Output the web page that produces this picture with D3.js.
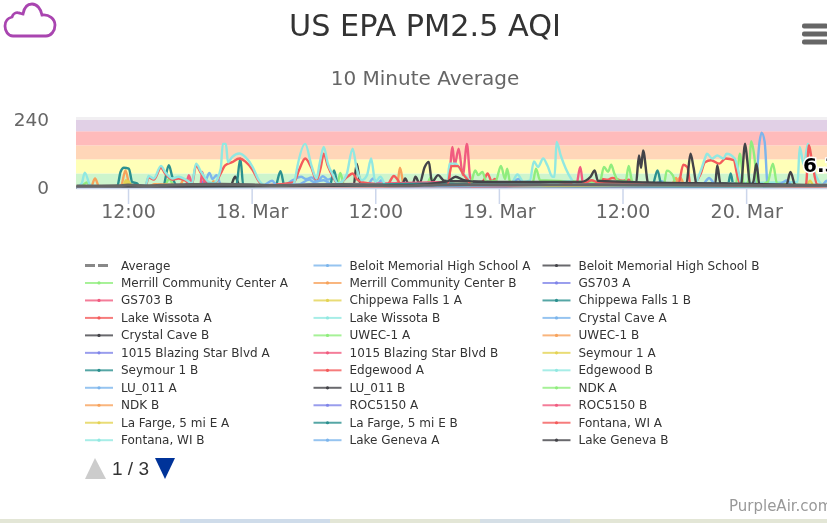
<!DOCTYPE html>
<html>
<head>
<meta charset="utf-8">
<script src="https://cdn.jsdelivr.net/npm/d3@7"></script>
<style>
  html, body { margin: 0; padding: 0; background: #fff; overflow: hidden; }
  svg { display: block; filter: blur(0.45px); font-family: "DejaVu Sans", sans-serif; }
</style>
</head>
<body>
<svg id="chart" width="827" height="523"></svg>
<script>
// Legend order, row by row (colours cycle through the palette in this order)
const seriesNames = [
  "Average", "Beloit Memorial High School A", "Beloit Memorial High School B",
  "Merrill Community Center A", "Merrill Community Center B", "GS703 A",
  "GS703 B", "Chippewa Falls 1 A", "Chippewa Falls 1 B",
  "Lake Wissota A", "Lake Wissota B", "Crystal Cave A",
  "Crystal Cave B", "UWEC-1 A", "UWEC-1 B",
  "1015 Blazing Star Blvd A", "1015 Blazing Star Blvd B", "Seymour 1 A",
  "Seymour 1 B", "Edgewood A", "Edgewood B",
  "LU_011 A", "LU_011 B", "NDK A",
  "NDK B", "ROC5150 A", "ROC5150 B",
  "La Farge, 5 mi E A", "La Farge, 5 mi E B", "Fontana, WI A",
  "Fontana, WI B", "Lake Geneva A", "Lake Geneva B"
];
const palette = ["#7cb5ec", "#434348", "#90ed7d", "#f7a35c", "#8085e9", "#f15c80", "#e4d354", "#2b908f", "#f45b5b", "#91e8e1"];

// AQI bands
const bandLimits = [0, 50, 100, 150, 200, 240];
const bandColors = ["#cdf5cd", "#ffffb8", "#ffd6b8", "#ffbbbb", "#e1d0e6"];

const yTicks = [0, 240];
// hours counted from 17 March 00:00
const xTicks = [12, 24, 36, 48, 60, 72];
const xTickLabels = ["12:00", "18. Mar", "12:00", "19. Mar", "12:00", "20. Mar"];
const lastLabel = "6.3";

// Every series is a list of [hour, AQI]
const average = [[7,5],[11,6],[12,9],[14,6],[16,9],[19,11],[21,12],[24,10],[26,7],[29,9],[33,11],[36,8],[39,6],[42,9],[45,10],[50,10],[56,10],[62,9],[66,9],[70,8],[74,7],[80,8]];
const beloitA = [[7,3],[16,5],[19,8],[19.6,30],[19.9,52],[20.2,30],[20.6,44],[21,12],[27,5],[28,26],[28.8,38],[29.3,30],[29.8,36],[30.4,22],[30.9,40],[31.4,28],[31.9,34],[32.4,10],[35.2,8],[35.8,32],[36.2,12],[36.6,26],[37,6],[48,8],[49.4,20],[49.9,30],[50.4,18],[56,8],[63,12],[63.8,22],[64.4,12],[69,10],[80,7]];
const beloitB = [[7,2],[21.9,2],[22.4,38],[22.9,2],[33.9,6],[34.2,85],[34.6,5],[44,8],[80,4]];
const merrillA = [[7,3],[7.6,8],[8,18],[8.4,3],[11.5,3],[12,22],[12.5,4],[15.5,5],[16,30],[16.5,4],[32.3,6],[32.6,52],[33,6],[38,4],[41,12],[41.4,36],[41.8,8],[80,3]];
const merrillB = [[7,2],[8.4,2],[8.8,32],[9.2,2],[11.3,3],[11.75,61],[12.2,3],[17,6],[17.4,28],[18,24],[18.4,4],[38.1,4],[38.4,70],[38.8,5],[64.7,4],[65.2,34],[65.5,6],[80,6]];
const gs703A = [[7,1],[18,2],[19,9],[19.4,24],[19.8,6],[28,3],[30,12],[30.6,4],[80,2]];
const gs703B = [[7,2],[17.6,3],[17.9,44],[18.3,3],[19,3],[19.2,55],[19.5,3],[39,4],[80,3]];
const chippewaA = [[7,2],[11.5,4],[11.8,26],[12.2,3],[24,4],[34,6],[38.6,4],[44,5],[50,6],[60,4],[77.8,3],[78.2,24],[78.6,3],[80,2]];
const chippewaB = [[7,2],[26.3,4],[26.8,58],[27.2,4],[31.6,8],[32,61],[32.4,5],[62.9,8],[63.4,61],[63.8,6],[70.2,2],[70.5,50],[70.8,2],[80,3]];
const wissotaA = [[7,2],[46,6],[46.6,30],[46.9,50],[47.3,22],[47.6,30],[48,8],[57.6,10],[58,30],[58.6,28],[59,34],[60,24],[60.6,28],[61.2,16],[80,5]];
const wissotaB = [[7,2],[7.5,14],[7.8,53],[8.3,10],[8.7,2],[45,3],[49.2,15],[49.8,46],[50.4,20],[51,24],[51.4,93],[51.8,73],[52.3,103],[52.7,79],[53.2,38],[53.4,38],[53.6,162],[54,114],[54.5,67],[55,32],[55.4,14],[61,20],[61.4,12],[77,20],[77.2,144],[77.6,80],[78,156],[78.5,70],[79,26],[79.4,12],[80,26]];
const crystalA = [[7,2],[72.9,6],[73.3,162],[73.5,195],[73.8,162],[74.1,6],[80,4]];
const crystalB = [[7,2],[38.6,8],[38.9,32],[39.3,6],[39.6,8],[39.9,38],[40.3,14],[40.8,73],[41.2,91],[41.5,20],[42.1,44],[42.7,24],[44,22],[80,5]];
const uwecA = [[7,2],[64,8],[64.3,60],[64.9,42],[65.2,8],[71,10],[71.4,120],[71.8,6],[72.2,20],[72.5,165],[72.8,110],[73.1,8],[74.1,20],[74.6,85],[75,14],[80,4]];
const uwecB = [[7,2],[20,5],[20.3,22],[20.7,4],[65,8],[65.6,36],[66,10],[80,3]];
const blazingA = [[7,1],[20,3],[21,6],[29,6],[45,4],[80,3]];
const blazingB = [[7,2],[43.1,20],[43.5,144],[43.7,80],[44.1,138],[44.5,44],[44.9,155],[45.2,38],[45.6,6],[80,2]];
const seymourA = [[7,1],[11.5,6],[12,22],[12.4,5],[30,3],[45,8],[60,7],[80,7]];
const seymourB = [[7,2],[10.95,3],[11.27,55],[11.6,70],[12.08,67],[12.4,20],[12.9,14],[13.1,3],[15.4,5],[15.96,79],[16.3,38],[16.7,8],[22.5,4],[22.9,103],[23.2,4],[80,2]];
const edgewoodA = [[7,1],[13.7,6],[14,36],[14.5,28],[15.2,70],[15.6,50],[16.3,28],[16.9,32],[17.7,22],[18.2,10],[18.6,78],[19.1,50],[19.8,16],[20.3,10],[21,50],[21.4,78],[22.1,90],[22.8,103],[23.4,92],[24.1,62],[24.7,22],[25.2,8],[28.1,18],[28.6,62],[29.2,103],[29.8,70],[30.3,26],[30.7,70],[31,120],[31.4,76],[31.9,38],[32.4,12],[33.3,38],[33.8,50],[34.2,30],[34.8,18],[37.2,8],[37.4,20],[37.8,41],[38.2,26],[38.5,5],[65.4,8],[65.9,81],[66.3,72],[66.6,8],[67.6,50],[68,90],[68.6,97],[69.4,85],[70,103],[70.8,97],[71.1,50],[71.5,8],[77.8,8],[78.1,150],[78.4,90],[78.9,10],[80,4]];
const edgewoodB = [[7,2],[13.7,8],[14,41],[14.5,32],[15.2,77],[15.6,55],[16.3,32],[16.9,38],[17.7,26],[18.2,14],[18.6,85],[19.1,55],[19.8,20],[20.3,14],[21,67],[21.2,155],[21.5,155],[21.7,90],[22.1,108],[22.8,121],[23.4,108],[24.1,73],[24.7,26],[25.2,10],[28,8],[28.2,26],[28.4,67],[29.2,155],[29.8,79],[30.3,32],[30.6,85],[31,144],[31.4,85],[31.9,44],[32.4,14],[33.2,44],[33.8,138],[34.2,67],[34.7,26],[35.2,44],[35.6,103],[36,20],[36.5,38],[37,10],[43,12],[43.2,85],[43.8,85],[44.5,50],[45,32],[45.5,8],[67,12],[67.6,60],[68,103],[68.2,120],[68.7,103],[69.2,114],[69.8,103],[70.1,120],[70.9,103],[71.2,67],[71.6,8],[80,5]];
const lu011A = [[7,2],[25,5],[26,24],[26.4,8],[28.5,10],[29.6,28],[30,20],[31,26],[32,6],[40,3],[46,8],[60,9],[68,10],[71,9],[75.2,12],[76,26],[76.4,8],[79.4,8],[79.8,24],[80,16]];
const lu011B = [[7,1],[61.3,10],[61.6,114],[61.8,70],[62,132],[62.5,14],[66.2,14],[66.6,120],[66.9,70],[67.2,10],[69,14],[69.2,79],[69.5,14],[71.5,10],[71.9,156],[72.1,100],[72.4,8],[72.7,20],[73,85],[73.3,8],[75.9,8],[76.3,55],[76.8,6],[80,6]];
const ndkA = [[7,1],[45.2,8],[45.7,61],[46,44],[46.4,55],[46.8,20],[47.7,24],[48.2,77],[48.6,30],[48.8,67],[49.1,18],[51.3,20],[51.6,67],[52,26],[57.8,20],[58.2,73],[58.6,56],[58.9,81],[59.2,50],[59.6,24],[60.3,22],[60.6,77],[60.9,26],[61.3,8],[80,3]];
const ndkB = [[7,3],[14,4],[14.6,12],[16,10],[17,8],[44,9],[50,7],[60,8],[74,6],[80,9]];
const roc5150A = [[7,2],[18,4],[20,7],[40,5],[50,5],[80,5]];
const roc5150B = [[7,2],[55.5,6],[55.9,73],[56.2,6],[60,5],[62.9,6],[63.2,10],[80,2]];
const laFargeA = [[7,3],[40,5],[45,6],[46,9],[50,5],[70,7],[80,4]];
const laFargeB = [[7,2],[25,3],[31,6],[43,14],[44,12],[80,4]];
const fontanaA = [[7,1],[40,3],[43,8],[43.4,76],[44,76],[44.6,44],[45,26],[45.4,4],[56.4,18],[57,26],[57.6,18],[80,3]];
const fontanaB = [[7,1],[42,6],[46,9],[52,8],[55,22],[55.5,10],[65,8],[70.5,9],[80,5]];
const genevaA = [[7,2],[20,4],[28,9],[33,12],[37,6],[40,4],[50,9],[62,8],[67.8,12],[68.4,34],[69,12],[80,6]];
const genevaB = [[7,1],[39,8],[43,22],[43.8,38],[44.6,26],[46,20],[56,20],[56.9,38],[57.3,61],[57.6,24],[62.4,18],[70,14],[76,10],[80,8]];

const seriesValues = [
  average, beloitA, beloitB, merrillA, merrillB, gs703A, gs703B, chippewaA, chippewaB,
  wissotaA, wissotaB, crystalA, crystalB, uwecA, uwecB, blazingA, blazingB, seymourA,
  seymourB, edgewoodA, edgewoodB, lu011A, lu011B, ndkA, ndkB, roc5150A, roc5150B,
  laFargeA, laFargeB, fontanaA, fontanaB, genevaA, genevaB
];

const width = 827, height = 523;
const plot = { left: 76, right: 827, top: 120, bottom: 187.5 };
const svg = d3.select('#chart');

const hourToDate = h => new Date(Date.UTC(2019, 2, 17) + h * 3600000);
const x = d3.scaleUtc().domain([hourToDate(6.95), hourToDate(79.85)]).range([plot.left, plot.right]);
const y = d3.scaleLinear().domain([0, 240]).range([plot.bottom, plot.top]);

const color = i => palette[(i - 1) % palette.length];
const seriesColor = i => i === 0 ? '#666' : color(i);

// Map strip that peeks out under the card
svg.append('rect').attr('x', 0).attr('y', 519).attr('width', width).attr('height', 4).attr('fill', '#e3e6d6');
svg.append('rect').attr('x', 180).attr('y', 519).attr('width', 150).attr('height', 4).attr('fill', '#cfdcea');
svg.append('rect').attr('x', 480).attr('y', 519).attr('width', 90).attr('height', 4).attr('fill', '#d5dfe6');

// Cloud icon
svg.append('path')
  .attr('d', 'M13 36C8 36 5 31 5 26C5 21 8 18 12 17C13 14 16 12 19 13C20 13 22 14 23 14C24 8 27 4 32 4C37 4 41 9 42 15C49 14 55 19 55 25C55 31 51 36 46 36Z')
  .attr('fill', 'none').attr('stroke', '#a945b0').attr('stroke-width', 2.8);

// Titles
svg.append('text').attr('x', 425).attr('y', 36).attr('text-anchor', 'middle')
  .attr('font-size', 30.3).attr('fill', '#333').text('US EPA PM2.5 AQI');
svg.append('text').attr('x', 425).attr('y', 85).attr('text-anchor', 'middle')
  .attr('font-size', 20).attr('fill', '#666').text('10 Minute Average');

// Menu button
svg.append('g').selectAll('rect').data([0, 1, 2]).enter().append('rect')
  .attr('x', 802).attr('y', d => 23.5 + d * 8)
  .attr('width', 26).attr('height', 5).attr('rx', 2).attr('fill', '#666');

// Bands
svg.append('rect').attr('x', plot.left).attr('y', plot.top - 3).attr('width', plot.right - plot.left).attr('height', 3).attr('fill', '#f1eff2');
svg.append('g').selectAll('rect').data(bandColors).enter().append('rect')
  .attr('x', plot.left).attr('width', plot.right - plot.left)
  .attr('y', (d, i) => y(bandLimits[i + 1]))
  .attr('height', (d, i) => y(bandLimits[i]) - y(bandLimits[i + 1]))
  .attr('fill', d => d);

// Lines
const line = d3.line()
  .x(d => x(hourToDate(d[0])))
  .y(d => y(d[1]))
  .curve(d3.curveMonotoneX);

const drawOrder = d3.range(1, seriesNames.length).concat([0]);
svg.append('g').selectAll('path').data(drawOrder).enter().append('path')
  .attr('d', i => line(seriesValues[i]))
  .attr('fill', 'none')
  .attr('stroke', seriesColor)
  .attr('stroke-width', i => i === 0 ? 3 : 2.4)
  .attr('stroke-linejoin', 'round');

// Axes
const xAxis = svg.append('g')
  .attr('transform', `translate(0,${plot.bottom + 0.5})`)
  .call(d3.axisBottom(x).tickValues(xTicks.map(hourToDate)).tickFormat((d, i) => xTickLabels[i]).tickSize(16).tickSizeOuter(0).tickPadding(1));
xAxis.select('.domain').attr('stroke', '#ccd6eb').attr('stroke-width', 1.5);
xAxis.selectAll('.tick line').attr('stroke', '#ccd6eb').attr('stroke-width', 1.5);
xAxis.selectAll('.tick text').attr('fill', '#666').attr('font-size', 19).attr('font-family', '"DejaVu Sans", sans-serif');

const yAxis = svg.append('g')
  .attr('transform', `translate(${plot.left},0)`)
  .call(d3.axisLeft(y).tickValues(yTicks).tickSize(0).tickPadding(27));
yAxis.select('.domain').remove();
yAxis.selectAll('.tick text').attr('fill', '#666').attr('font-size', 18.5).attr('font-family', '"DejaVu Sans", sans-serif');

// Data label on the last point
svg.append('text').attr('x', 803).attr('y', 172)
  .attr('font-size', 20).attr('font-weight', 'bold').attr('fill', '#000')
  .attr('stroke', '#fff').attr('stroke-width', 3).attr('paint-order', 'stroke')
  .text(lastLabel);

// Legend
const columnX = [85, 313.5, 542.5];
const legend = svg.append('g');
const items = legend.selectAll('g').data(seriesNames).enter().append('g')
  .attr('transform', (d, i) => `translate(${columnX[i % 3]},${265.5 + Math.floor(i / 3) * 17.47})`);

items.append('line')
  .attr('x1', 0).attr('x2', (d, i) => i === 0 ? 24 : 28)
  .attr('stroke', (d, i) => i === 0 ? '#888' : seriesColor(i))
  .attr('stroke-width', (d, i) => i === 0 ? 3 : 2)
  .attr('stroke-opacity', (d, i) => i === 0 ? 1 : 0.8)
  .attr('stroke-dasharray', (d, i) => i === 0 ? '10 3' : null);
items.filter((d, i) => i > 0).append('circle')
  .attr('cx', 14).attr('r', 1.6)
  .attr('fill', d => seriesColor(seriesNames.indexOf(d)));
items.append('text')
  .attr('x', 36).attr('y', 4).attr('font-size', 12).attr('fill', '#333').text(d => d);

// Pager
svg.append('path').attr('d', d3.line()([[85, 479], [95, 458], [106, 479]])).attr('fill', '#ccc');
svg.append('path').attr('d', d3.line()([[155, 458], [175, 458], [165, 479]])).attr('fill', '#003399');
svg.append('text').attr('x', 112).attr('y', 475).attr('font-size', 19)
  .attr('font-family', '"Liberation Sans", sans-serif').attr('fill', '#333').text('1 / 3');

// Credit
svg.append('text').attr('x', 729).attr('y', 511).attr('font-size', 15).attr('fill', '#999').text('PurpleAir.com');
</script>
</body>
</html>
